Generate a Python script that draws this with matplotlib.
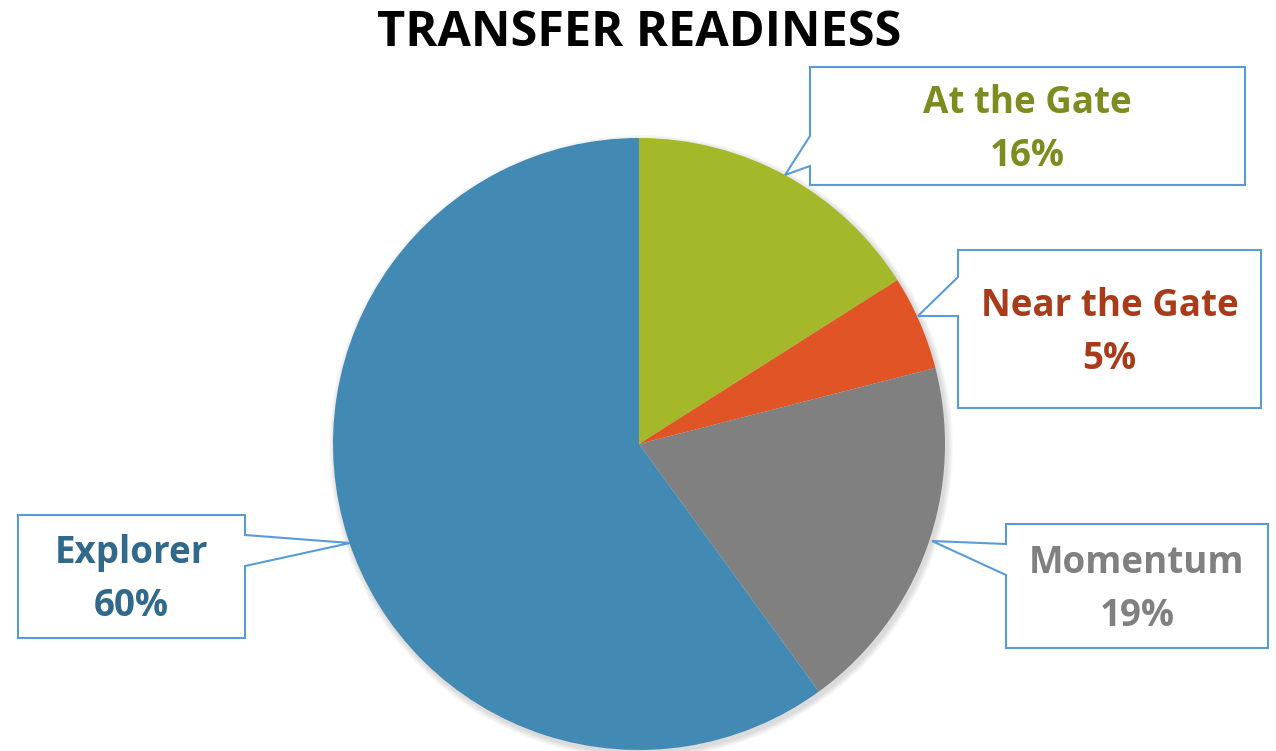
import matplotlib.pyplot as plt
import matplotlib.patches as mpatches
import numpy as np

plt.rcParams['font.family'] = ['Open Sans', 'DejaVu Sans']

labels = ["At the Gate", "Near the Gate", "Momentum", "Explorer"]
values = [16, 5, 19, 60]
colors = ["#A5B82A", "#E05426", "#808080", "#428AB4"]
text_colors = ["#7E8B1E", "#A83C1A", "#808080", "#30698A"]

# callout boxes in pixel coords (top-left origin): box (x0, y0, x1, y1), pointer side, gap y range, tip
callouts = [
    ((810, 67, 1245, 185), "left", (136, 166), (785, 175)),
    ((958, 250, 1261, 408), "left", (277, 316), (918, 316)),
    ((1006, 524, 1268, 648), "left", (544, 575), (932, 541)),
    ((18, 515, 245, 638), "right", (535, 566), (350, 543)),
]

W, H = 1276, 751
fig = plt.figure(figsize=(W / 100, H / 100), dpi=100)
ax = fig.add_axes([0, 0, 1, 1])

cx, cy, r = 639, H - 444, 306

# soft shadow
for k in range(6):
    ax.add_patch(mpatches.Circle((cx + 2, cy - 3), r + 1 + k, color='black',
                                 alpha=0.025, lw=0, zorder=1))

ax.pie(values, colors=colors, startangle=90, counterclock=False,
       center=(cx, cy), radius=r, frame=True,
       wedgeprops=dict(linewidth=0, zorder=2))
ax.set_xlim(0, W)
ax.set_ylim(0, H)
ax.set_aspect('equal')
ax.axis('off')

def fy(y):
    return H - y

for (box, side, gap, tip), lab, val, tc in zip(callouts, labels, values, text_colors):
    x0, y0, x1, y1 = box
    g0, g1 = gap
    if side == "left":
        pts = [(x0, y0), (x1, y0), (x1, y1), (x0, y1), (x0, g1), tip, (x0, g0)]
    else:
        pts = [(x0, y0), (x1, y0), (x1, g0), tip, (x1, g1), (x1, y1), (x0, y1)]
    pts = [(px, fy(py)) for px, py in pts]
    ax.add_patch(mpatches.Polygon(pts, closed=True, facecolor='white',
                                  edgecolor='#5B9BD5', linewidth=1.5, zorder=5))
    mx = (x0 + x1) / 2
    my = (y0 + y1) / 2
    ax.text(mx, fy(my - 23), lab, ha='center', va='center', fontsize=26.5,
            fontweight='bold', color=tc, zorder=6)
    ax.text(mx, fy(my + 30), f"{val}%", ha='center', va='center', fontsize=26.5,
            fontweight='bold', color=tc, zorder=6)

ax.text(639, fy(33), "TRANSFER READINESS", ha='center', va='center',
        fontsize=35, fontweight='bold', color='black')

fig.savefig("out.png", dpi=100)
